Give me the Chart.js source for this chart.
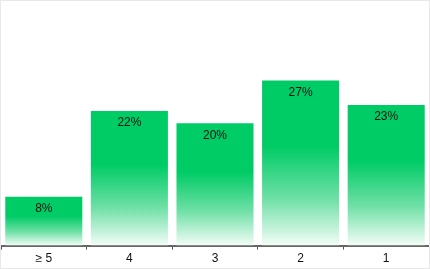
<!DOCTYPE html>
<html><head><meta charset="utf-8">
<script src="https://cdn.jsdelivr.net/npm/chart.js@4"></script>
<style>
html,body{margin:0;padding:0;background:#fff;}
#wrap{position:absolute;left:0;top:0;width:428px;height:267px;border:1px solid #e8e8e8;}
canvas{display:block;}
</style></head>
<body>
<div id="wrap"><canvas id="c" width="428" height="267"></canvas></div>
<script>
const categories = ["\u2265 5", "4", "3", "2", "1"];
const values = [8, 22, 20, 27, 23];
const valueLabels = ["8%", "22%", "20%", "27%", "23%"];

function barGradient(ctx) {
  const chart = ctx.chart;
  const area = chart.chartArea;
  if (!area) return '#00cc66';
  const ys = chart.scales.y;
  const top = ys.getPixelForValue(values[ctx.dataIndex]);
  const bottom = ys.getPixelForValue(0);
  const g = chart.ctx.createLinearGradient(0, top, 0, bottom);
  g.addColorStop(0, '#00cc66');
  g.addColorStop(0.4, '#00cc66');
  g.addColorStop(0.72, '#70e0a7');
  g.addColorStop(1, '#f4fdf8');
  return g;
}

const labelPlugin = {
  id: 'valueLabels',
  afterDatasetsDraw(chart) {
    const c = chart.ctx;
    const meta = chart.getDatasetMeta(0);
    c.save();
    c.font = '12px "Liberation Sans", Arial, sans-serif';
    c.fillStyle = '#111';
    c.textAlign = 'center';
    c.textBaseline = 'middle';
    meta.data.forEach((bar, i) => {
      c.fillText(valueLabels[i], bar.x, bar.y + 12);
    });
    c.restore();
  }
};

new Chart(document.getElementById('c'), {
  type: 'bar',
  data: {
    labels: categories,
    datasets: [{
      data: values,
      backgroundColor: barGradient,
      borderWidth: 0,
      barPercentage: 0.9,
      categoryPercentage: 1.0
    }]
  },
  options: {
    responsive: false,
    animation: false,
    layout: { padding: { left: 0, right: 0, top: 0, bottom: 0 } },
    plugins: { legend: { display: false }, tooltip: { enabled: false } },
    scales: {
      x: {
        grid: { display: true, drawOnChartArea: false, drawTicks: true, tickLength: 4, color: '#555', offset: true },
        border: { display: true, color: '#666', width: 2 },
        ticks: { color: '#111', font: { size: 12, family: '"Liberation Sans", Arial, sans-serif' }, padding: 2 }
      },
      y: {
        display: false,
        min: 0,
        max: 40
      }
    }
  },
  plugins: [labelPlugin]
});
</script>
</body></html>
